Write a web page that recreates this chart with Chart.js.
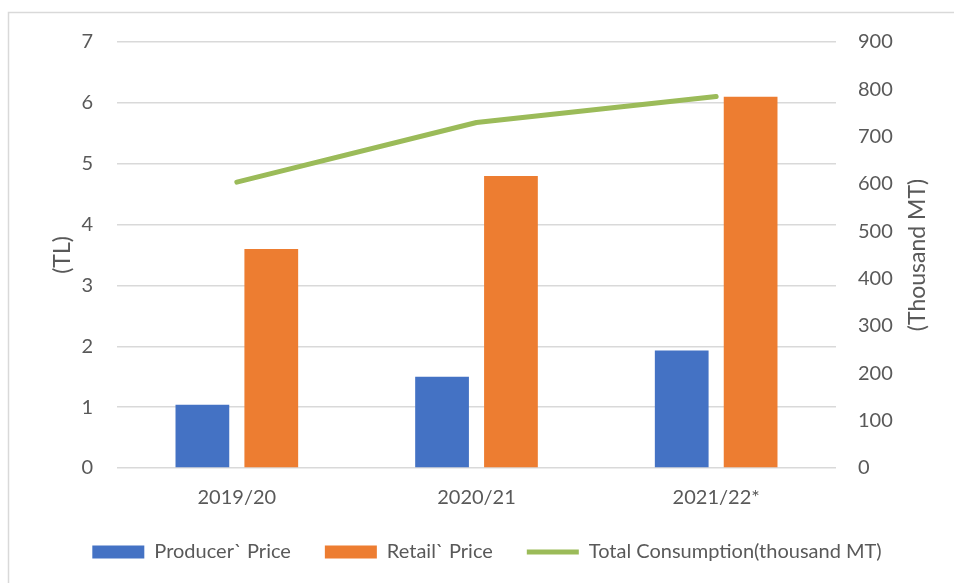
<!DOCTYPE html>
<html>
<head>
<meta charset="utf-8">
<script src="https://cdn.jsdelivr.net/npm/chart.js@4.4.0/dist/chart.umd.min.js"></script>
<style>
    html, body { margin: 0; padding: 0; background: #fff; }
    #wrap { position: relative; width: 954px; height: 583px; }
</style>
</head>
<body>
<div id="wrap"><canvas id="chart"></canvas></div>
<script>
// ---- data ----
const seasons = ['2019/20', '2020/21', '2021/22*'];
const producerPrice = [1.04, 1.5, 1.93];
const retailPrice = [3.6, 4.8, 6.1];
const totalConsumption = [604, 730, 785];

const TEXT = '#595959';
const GRID = '#d9d9d9';
const FONT = 'Lato, "Open Sans", sans-serif';

// light frame around the chart (cut off at right / bottom in the reference)
const framePlugin = {
    id: 'frame',
    afterDraw(chart) {
        const c = chart.ctx;
        c.save();
        c.strokeStyle = GRID;
        c.lineWidth = 1.5;
        c.beginPath();
        c.moveTo(8.5, 583);
        c.lineTo(8.5, 12.5);
        c.lineTo(954, 12.5);
        c.stroke();
        c.restore();
    }
};

// right axis title reads bottom-to-top, so draw it ourselves
const rightTitlePlugin = {
    id: 'rightTitle',
    afterDraw(chart) {
        const c = chart.ctx;
        const area = chart.chartArea;
        c.save();
        c.translate(918, (area.top + area.bottom) / 2);
        c.rotate(-Math.PI / 2);
        c.font = '23px ' + FONT;
        c.fillStyle = TEXT;
        c.textAlign = 'center';
        c.textBaseline = 'middle';
        c.fillText('(Thousand MT)', 0, 0);
        c.restore();
    }
};

const ctx = document.getElementById('chart');

new Chart(ctx, {
    type: 'bar',
    data: {
        labels: seasons,
        datasets: [{
            type: 'line',
            label: 'Total Consumption(thousand MT)',
            data: totalConsumption,
            yAxisID: 'y2',
            borderColor: '#9bbb59',
            backgroundColor: '#9bbb59',
            borderWidth: 5,
            borderCapStyle: 'round',
            borderJoinStyle: 'round',
            pointRadius: 0,
            pointStyle: 'line',
            tension: 0,
            order: 0
        }, {
            label: 'Producer` Price',
            data: producerPrice,
            yAxisID: 'y',
            backgroundColor: '#4472c4',
            pointStyle: 'rect',
            order: 1
        }, {
            label: 'Retail` Price',
            data: retailPrice,
            yAxisID: 'y',
            backgroundColor: '#ed7d31',
            pointStyle: 'rect',
            order: 1
        }]
    },
    options: {
        responsive: true,
        maintainAspectRatio: false,
        animation: false,
        categoryPercentage: 0.575,
        barPercentage: 0.78,
        layout: {
            padding: { left: 20, right: 0, top: 42, bottom: 11 }
        },
        plugins: {
            legend: {
                position: 'bottom',
                labels: {
                    // bar items first, the line last
                    sort: (a, b) => (a.datasetIndex === 0 ? 1 : 0) - (b.datasetIndex === 0 ? 1 : 0) || a.datasetIndex - b.datasetIndex,
                    usePointStyle: true,
                    pointStyleWidth: 52,
                    boxHeight: 13,
                    color: TEXT,
                    font: { size: 20, family: FONT },
                    padding: 34
                }
            },
            tooltip: { enabled: false }
        },
        scales: {
            x: {
                grid: { display: false, drawTicks: false },
                border: { display: false },
                ticks: {
                    color: TEXT,
                    font: { size: 20, family: FONT },
                    padding: 18
                },
                afterFit: (scale) => { scale.height = 40; }
            },
            y: {
                position: 'left',
                min: 0,
                max: 7,
                grid: { color: GRID, lineWidth: 1.5, drawTicks: false },
                border: { display: false },
                ticks: {
                    stepSize: 1,
                    color: TEXT,
                    font: { size: 20, family: FONT },
                    padding: 24
                },
                title: {
                    display: true,
                    text: '(TL)',
                    color: TEXT,
                    font: { size: 23, family: FONT },
                    padding: { top: 29, bottom: 0 }
                },
                afterFit: (scale) => { scale.width = 97; }
            },
            y2: {
                position: 'right',
                min: 0,
                max: 900,
                grid: { display: false, drawTicks: false },
                border: { display: false },
                ticks: {
                    stepSize: 100,
                    color: TEXT,
                    font: { size: 20, family: FONT },
                    padding: 22
                },
                afterFit: (scale) => { scale.width = 118; }
            }
        }
    },
    plugins: [framePlugin, rightTitlePlugin]
});
</script>
</body>
</html>
